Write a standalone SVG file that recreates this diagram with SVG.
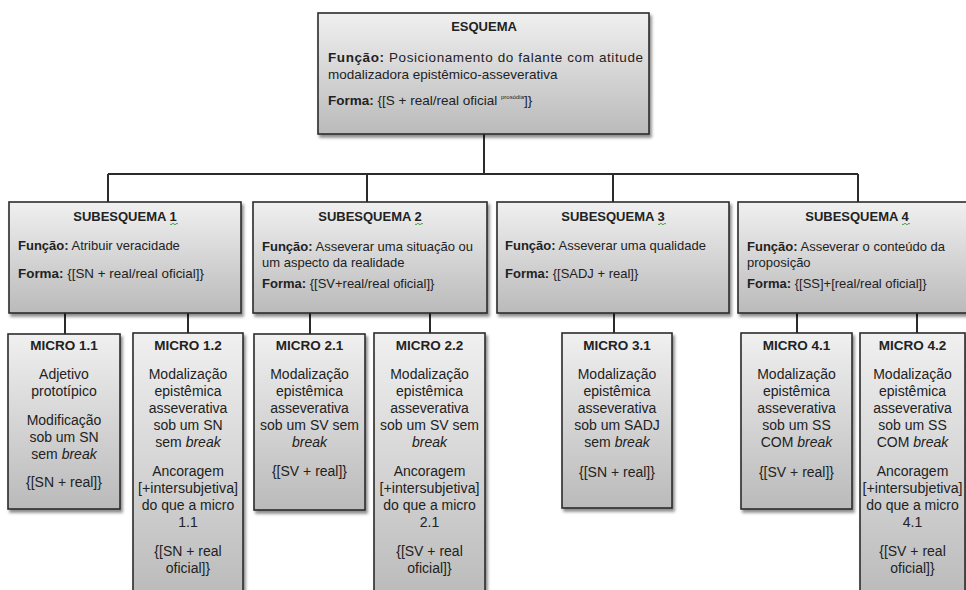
<svg xmlns="http://www.w3.org/2000/svg" width="966" height="590" viewBox="0 0 966 590">
<defs>
<linearGradient id="g" x1="0" y1="0" x2="0" y2="1">
<stop offset="0" stop-color="#f0f0f0"/>
<stop offset="1" stop-color="#bababa"/>
</linearGradient>
<linearGradient id="gt" gradientUnits="userSpaceOnUse" x1="0" y1="333" x2="0" y2="600">
<stop offset="0" stop-color="#f0f0f0"/>
<stop offset="1" stop-color="#bababa"/>
</linearGradient>
<filter id="sh" x="-10%" y="-10%" width="130%" height="130%">
<feDropShadow dx="2" dy="3" stdDeviation="1.5" flood-color="#000" flood-opacity="0.45"/>
</filter>
<style>
.box{fill:url(#g);stroke:#2b2b2b;stroke-width:1.6;filter:url(#sh)}
.tall{fill:url(#gt);stroke:#2b2b2b;stroke-width:1.6;filter:url(#sh)}
text{font-family:"Liberation Sans",Arial,sans-serif;fill:#222}
.t{font-size:13px;font-weight:bold;text-anchor:middle}
.b{font-size:13px}
.e{font-size:13.5px}
.m{font-size:14px;text-anchor:middle}
.mt{font-size:13.5px;font-weight:bold;text-anchor:middle}
.bold{font-weight:bold}
.conn{stroke:#2b2b2b;stroke-width:2;fill:none}
.sq{stroke:#3a9a3a;stroke-width:0.9;fill:none}
</style>
</defs>
<rect width="966" height="590" fill="#ffffff"/>

<g id="connectors">
<path class="conn" d="M484,134 V174 M108,174 H858 M108,174 V202 M367,174 V202 M613,174 V202 M858,174 V202"/>
<path class="conn" d="M65,313 V334 M188,313 V333 M310,313 V334 M430,313 V333 M614,313 V333 M797,313 V333 M917,313 V333"/>
</g>

<g id="esquema">
<rect class="box" x="318" y="13" width="331" height="121"/>
<text class="t" x="484" y="31">ESQUEMA</text>
<text class="e" x="328" y="62" textLength="315" lengthAdjust="spacing"><tspan class="bold">Função:</tspan> Posicionamento do falante com atitude</text>
<text class="e" x="328" y="79">modalizadora epistêmico-asseverativa</text>
<text class="e" x="328" y="105"><tspan class="bold">Forma:</tspan> {[S + real/real oficial <tspan font-size="6" dy="-6">prosódia</tspan><tspan dy="6">]}</tspan></text>
</g>

<g id="subesquema1">
<rect class="box" x="9" y="202" width="232" height="111"/>
<text class="t" x="125" y="221">SUBESQUEMA 1</text>
<path class="sq" d="M170,224 q1,1.5 2,0 t2,0 t2,0 t2,0"/>
<text class="b" x="18" y="250"><tspan class="bold">Função:</tspan> Atribuir veracidade</text>
<text class="b" x="18" y="278" textLength="186" lengthAdjust="spacingAndGlyphs"><tspan class="bold">Forma:</tspan> {[SN + real/real oficial]}</text>
</g>

<g id="subesquema2">
<rect class="box" x="253" y="202" width="234" height="111"/>
<text class="t" x="370" y="221">SUBESQUEMA 2</text>
<path class="sq" d="M415,224 q1,1.5 2,0 t2,0 t2,0 t2,0"/>
<text class="b" x="262" y="251"><tspan class="bold">Função:</tspan> Asseverar uma situação ou</text>
<text class="b" x="262" y="267">um aspecto da realidade</text>
<text class="b" x="262" y="288"><tspan class="bold">Forma:</tspan> {[SV+real/real oficial]}</text>
</g>

<g id="subesquema3">
<rect class="box" x="497" y="202" width="232" height="111"/>
<text class="t" x="613" y="221">SUBESQUEMA 3</text>
<path class="sq" d="M658,224 q1,1.5 2,0 t2,0 t2,0 t2,0"/>
<text class="b" x="505" y="250"><tspan class="bold">Função:</tspan> Asseverar uma qualidade</text>
<text class="b" x="505" y="278"><tspan class="bold">Forma:</tspan> {[SADJ + real]}</text>
</g>

<g id="subesquema4">
<rect class="box" x="738" y="202" width="238" height="111"/>
<text class="t" x="857" y="221">SUBESQUEMA 4</text>
<path class="sq" d="M902,224 q1,1.5 2,0 t2,0 t2,0 t2,0"/>
<text class="b" x="747" y="251"><tspan class="bold">Função:</tspan> Asseverar o conteúdo da</text>
<text class="b" x="747" y="267">proposição</text>
<text class="b" x="747" y="288"><tspan class="bold">Forma:</tspan> {[SS]+[real/real oficial]}</text>
</g>

<g id="micro11">
<rect class="box" x="8" y="334" width="112" height="175"/>
<text class="mt" x="64" y="350">MICRO 1.1</text>
<text class="m" x="64" y="379">Adjetivo</text>
<text class="m" x="64" y="396">prototípico</text>
<text class="m" x="64" y="425">Modificação</text>
<text class="m" x="64" y="442">sob um SN</text>
<text class="m" x="64" y="459">sem <tspan font-style="italic">break</tspan></text>
<text class="m" x="64" y="487">{[SN + real]}</text>
</g>

<g id="micro12">
<rect class="tall" x="133" y="333" width="110" height="275"/>
<text class="mt" x="188" y="350">MICRO 1.2</text>
<text class="m" x="188" y="379">Modalização</text>
<text class="m" x="188" y="396">epistêmica</text>
<text class="m" x="188" y="413">asseverativa</text>
<text class="m" x="188" y="430">sob um SN</text>
<text class="m" x="188" y="447">sem <tspan font-style="italic">break</tspan></text>
<text class="m" x="188" y="476">Ancoragem</text>
<text class="m" x="188" y="493" textLength="100" lengthAdjust="spacingAndGlyphs">[+intersubjetiva]</text>
<text class="m" x="188" y="510">do que a micro</text>
<text class="m" x="188" y="527">1.1</text>
<text class="m" x="188" y="556">{[SN + real</text>
<text class="m" x="188" y="573">oficial]}</text>
</g>

<g id="micro21">
<rect class="box" x="254" y="334" width="111" height="176"/>
<text class="mt" x="309.5" y="350">MICRO 2.1</text>
<text class="m" x="309.5" y="379">Modalização</text>
<text class="m" x="309.5" y="396">epistêmica</text>
<text class="m" x="309.5" y="413">asseverativa</text>
<text class="m" x="309.5" y="430">sob um SV sem</text>
<text class="m" x="309.5" y="447" font-style="italic">break</text>
<text class="m" x="309.5" y="476">{[SV + real]}</text>
</g>

<g id="micro22">
<rect class="tall" x="374" y="333" width="111" height="275"/>
<text class="mt" x="429.5" y="350">MICRO 2.2</text>
<text class="m" x="429.5" y="379">Modalização</text>
<text class="m" x="429.5" y="396">epistêmica</text>
<text class="m" x="429.5" y="413">asseverativa</text>
<text class="m" x="429.5" y="430">sob um SV sem</text>
<text class="m" x="429.5" y="447" font-style="italic">break</text>
<text class="m" x="429.5" y="476">Ancoragem</text>
<text class="m" x="429.5" y="493" textLength="100" lengthAdjust="spacingAndGlyphs">[+intersubjetiva]</text>
<text class="m" x="429.5" y="510">do que a micro</text>
<text class="m" x="429.5" y="527">2.1</text>
<text class="m" x="429.5" y="556">{[SV + real</text>
<text class="m" x="429.5" y="573">oficial]}</text>
</g>

<g id="micro31">
<rect class="box" x="562" y="333" width="110" height="175"/>
<text class="mt" x="617" y="350">MICRO 3.1</text>
<text class="m" x="617" y="379">Modalização</text>
<text class="m" x="617" y="396">epistêmica</text>
<text class="m" x="617" y="413">asseverativa</text>
<text class="m" x="617" y="430">sob um SADJ</text>
<text class="m" x="617" y="447">sem <tspan font-style="italic">break</tspan></text>
<text class="m" x="617" y="477">{[SN + real]}</text>
</g>

<g id="micro41">
<rect class="box" x="741" y="333" width="111" height="176"/>
<text class="mt" x="796.5" y="350">MICRO 4.1</text>
<text class="m" x="796.5" y="379">Modalização</text>
<text class="m" x="796.5" y="396">epistêmica</text>
<text class="m" x="796.5" y="413">asseverativa</text>
<text class="m" x="796.5" y="430">sob um SS</text>
<text class="m" x="796.5" y="447">COM <tspan font-style="italic">break</tspan></text>
<text class="m" x="796.5" y="477">{[SV + real]}</text>
</g>

<g id="micro42">
<rect class="tall" x="860" y="333" width="105" height="275"/>
<text class="mt" x="912.5" y="350">MICRO 4.2</text>
<text class="m" x="912.5" y="379">Modalização</text>
<text class="m" x="912.5" y="396">epistêmica</text>
<text class="m" x="912.5" y="413">asseverativa</text>
<text class="m" x="912.5" y="430">sob um SS</text>
<text class="m" x="912.5" y="447">COM <tspan font-style="italic">break</tspan></text>
<text class="m" x="912.5" y="476">Ancoragem</text>
<text class="m" x="912.5" y="493" textLength="100" lengthAdjust="spacingAndGlyphs">[+intersubjetiva]</text>
<text class="m" x="912.5" y="510">do que a micro</text>
<text class="m" x="912.5" y="527">4.1</text>
<text class="m" x="912.5" y="556">{[SV + real</text>
<text class="m" x="912.5" y="573">oficial]}</text>
</g>
</svg>
